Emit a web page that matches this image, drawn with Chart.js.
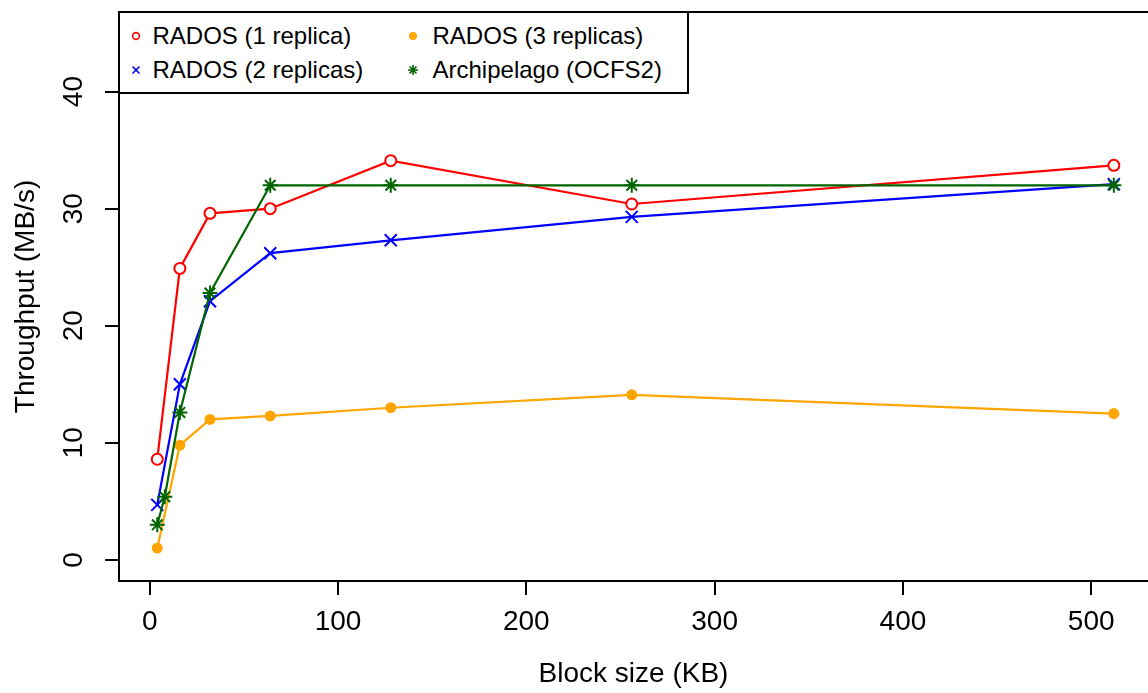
<!DOCTYPE html>
<html>
<head>
<meta charset="utf-8">
<script src="https://cdn.jsdelivr.net/npm/chart.js@4/dist/chart.umd.min.js"></script>
<style>
html,body{margin:0;padding:0;background:#fff;overflow:hidden;}
#wrap{position:relative;width:1148px;height:693px;}
#legendBox{position:absolute;left:118px;top:11px;width:567px;height:79px;border:2px solid #000;background:#fff;}
.lg-text{position:absolute;font-family:"Liberation Sans",Arial,Helvetica,sans-serif;font-size:24px;line-height:1;color:#000;white-space:nowrap;transform:translateY(-50%);}
.lg-mark{position:absolute;width:20px;height:20px;}
</style>
</head>
<body>
<div id="wrap">
<canvas id="c" width="1148" height="693"></canvas>
<div id="legendBox"></div>
</div>
<script>
// ---- data ----
const blockSizes = [4, 16, 32, 64, 128, 256, 512];
const blockSizesArch = [4, 8, 16, 32, 64, 128, 256, 512];
const rados1 = [8.6, 24.9, 29.6, 30.0, 34.1, 30.4, 33.7];
const rados2 = [4.7, 15.0, 22.1, 26.2, 27.3, 29.3, 32.1];
const rados3 = [1.0, 9.8, 12.0, 12.3, 13.0, 14.1, 12.5];
const archipelago = [3.0, 5.4, 12.6, 22.8, 32.0, 32.0, 32.0, 32.0];
const seriesNames = ['RADOS (1 replica)', 'RADOS (2 replicas)', 'RADOS (3 replicas)', 'Archipelago (OCFS2)'];
const xTicks = [0, 100, 200, 300, 400, 500];
const yTicks = [0, 10, 20, 30, 40];
const xTitle = 'Block size (KB)';
const yTitle = 'Throughput (MB/s)';

const FONT = '"Liberation Sans", Arial, Helvetica, sans-serif';
const pts = (xs, ys) => xs.map((x, i) => ({x: x, y: ys[i]}));

const boxPlugin = {
  id: 'box',
  afterDraw(chart) {
    const {ctx, chartArea: a} = chart;
    ctx.save();
    ctx.strokeStyle = '#000';
    ctx.lineWidth = 2;
    ctx.beginPath();
    ctx.moveTo(a.right + 10, a.top);
    ctx.lineTo(a.left, a.top);
    ctx.lineTo(a.left, a.bottom);
    ctx.lineTo(a.right + 10, a.bottom);
    ctx.stroke();
    ctx.restore();
  }
};

const zeroPad = s => { s.paddingTop = 0; s.paddingBottom = 0; s.paddingLeft = 0; s.paddingRight = 0; };
const common = {showLine: true, tension: 0, borderWidth: 2.2, fill: false, clip: false};

new Chart(document.getElementById('c'), {
  type: 'scatter',
  data: {
    datasets: [
      Object.assign({}, common, {label: seriesNames[0], data: pts(blockSizes, rados1), borderColor: '#FF0000',
        pointStyle: 'circle', pointRadius: 5.5, pointBorderWidth: 2, pointBorderColor: '#FF0000', pointBackgroundColor: '#FFFFFF', order: 4}),
      Object.assign({}, common, {label: seriesNames[1], data: pts(blockSizes, rados2), borderColor: '#0000FF',
        pointStyle: 'crossRot', pointRadius: 8.5, pointBorderWidth: 2, pointBorderColor: '#0000FF', pointBackgroundColor: '#0000FF', order: 3}),
      Object.assign({}, common, {label: seriesNames[2], data: pts(blockSizes, rados3), borderColor: '#FFA500',
        pointStyle: 'circle', pointRadius: 5.5, pointBorderWidth: 0, pointBorderColor: '#FFA500', pointBackgroundColor: '#FFA500', order: 2}),
      Object.assign({}, common, {label: seriesNames[3], data: pts(blockSizesArch, archipelago), borderColor: '#006400',
        pointStyle: 'star', pointRadius: 7.5, pointBorderWidth: 2, pointBorderColor: '#006400', pointBackgroundColor: '#006400', order: 1})
    ]
  },
  options: {
    responsive: false,
    animation: false,
    events: [],
    layout: {autoPadding: false, padding: {top: 12, right: 0, bottom: 0, left: 0}},
    plugins: {legend: {display: false}, tooltip: {enabled: false}},
    scales: {
      x: {
        type: 'linear', min: -16.32, max: 530.15,
        afterBuildTicks: s => { s.ticks = xTicks.map(v => ({value: v})); },
        afterFit: s => { s.height = 112; zeroPad(s); },
        grid: {drawOnChartArea: false, drawTicks: true, tickLength: 14, color: '#000', lineWidth: 2},
        border: {display: false},
        ticks: {font: {family: FONT, size: 28}, color: '#000', padding: 10, maxRotation: 0, minRotation: 0, autoSkip: false},
        title: {display: true, text: xTitle, font: {family: FONT, size: 28}, color: '#000', padding: {top: 0, bottom: 2}}
      },
      y: {
        type: 'linear', min: -1.8, max: 46.8,
        afterBuildTicks: s => { s.ticks = yTicks.map(v => ({value: v})); },
        afterFit: s => { s.width = 119; zeroPad(s); },
        grid: {drawOnChartArea: false, drawTicks: true, tickLength: 14, color: '#000', lineWidth: 2},
        border: {display: false},
        ticks: {font: {family: FONT, size: 28}, color: '#000', padding: 15, minRotation: 90, maxRotation: 90, crossAlign: 'center', autoSkip: false},
        title: {display: true, text: yTitle, font: {family: FONT, size: 28}, color: '#000', padding: {top: 9, bottom: 0}}
      }
    }
  },
  plugins: [boxPlugin]
});

// ---- legend (HTML, two columns like the reference) ----
const legendItems = [
  {name: seriesNames[0], mark: 'circle', color: '#FF0000', sx: 135.7, tx: 152.5, y: 36},
  {name: seriesNames[1], mark: 'x', color: '#0000FF', sx: 135.7, tx: 152.5, y: 69.5},
  {name: seriesNames[2], mark: 'dot', color: '#FFA500', sx: 413, tx: 432.5, y: 36},
  {name: seriesNames[3], mark: 'star', color: '#006400', sx: 413, tx: 432.5, y: 69.5}
];
function markSvg(m, c) {
  let inner = '';
  if (m === 'circle') inner = `<circle cx="10" cy="10" r="3.4" fill="none" stroke="${c}" stroke-width="1.6"/>`;
  else if (m === 'dot') inner = `<circle cx="10" cy="10" r="4" fill="${c}"/>`;
  else if (m === 'x') inner = `<path d="M6.5 6.5L13.5 13.5M13.5 6.5L6.5 13.5" stroke="${c}" stroke-width="1.6"/>`;
  else inner = `<path d="M10 5L10 15M5 10L15 10M6.5 6.5L13.5 13.5M13.5 6.5L6.5 13.5" stroke="${c}" stroke-width="1.6"/>`;
  return `<svg xmlns="http://www.w3.org/2000/svg" width="20" height="20" viewBox="0 0 20 20">${inner}</svg>`;
}
const wrap = document.getElementById('wrap');
legendItems.forEach(it => {
  const mk = document.createElement('div');
  mk.className = 'lg-mark';
  mk.style.left = (it.sx - 10) + 'px';
  mk.style.top = (it.y - 10) + 'px';
  mk.innerHTML = markSvg(it.mark, it.color);
  wrap.appendChild(mk);
  const t = document.createElement('div');
  t.className = 'lg-text';
  t.style.left = it.tx + 'px';
  t.style.top = it.y + 'px';
  t.textContent = it.name;
  wrap.appendChild(t);
});
</script>
</body>
</html>
